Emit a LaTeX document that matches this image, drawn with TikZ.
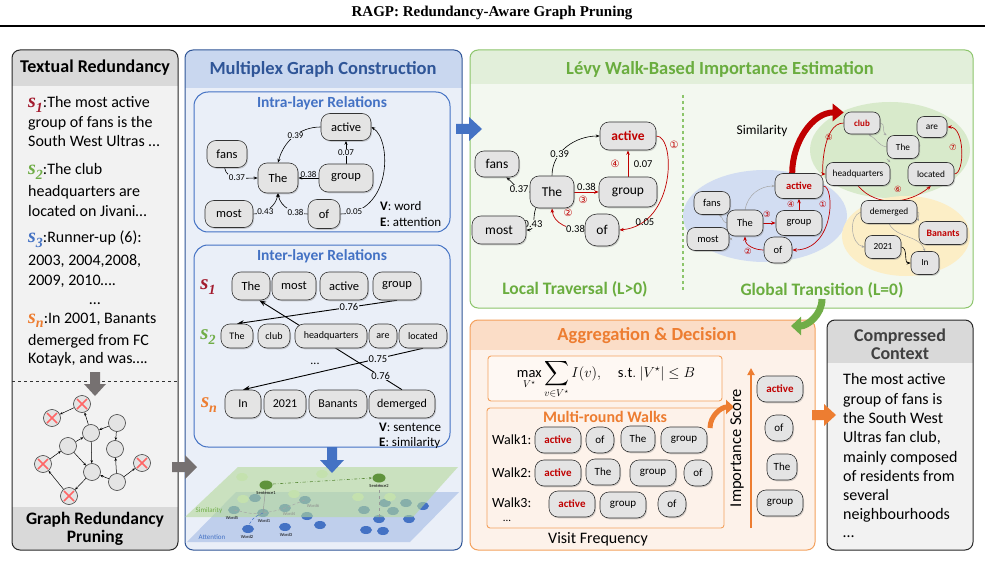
\documentclass[tikz,border=0pt]{standalone}
\usepackage{exscale}
\usepackage{fontspec}
\setmainfont{Carlito}
\newfontfamily\titlefont{Liberation Serif}
\newfontfamily\dejavu{DejaVu Sans}
\usetikzlibrary{arrows.meta,shadows,calc}
\pgfdeclarelayer{bg}
\pgfdeclarelayer{fg}
\pgfsetlayers{bg,main,fg}
\newcommand\myfs[1]{\fontsize{#1}{#1}\selectfont}
\newcommand\svar[3]{{\color{#1}\titlefont\bfseries\itshape\myfs{#3}s\raisebox{-0.22em}{\myfs{14}#2}}}
\definecolor{sred}{HTML}{A31B2E}
\definecolor{sgreen}{HTML}{70AD47}
\definecolor{sblue}{HTML}{4472C4}
\definecolor{sorange}{HTML}{ED7D31}
\definecolor{wred}{HTML}{C00000}
\definecolor{nodefill}{HTML}{E4E4E4}
\definecolor{p1body}{HTML}{F2F2F2}
\definecolor{p1head}{HTML}{D9D9D9}
\definecolor{p2border}{HTML}{2F5597}
\definecolor{p2head}{HTML}{C9D7EF}
\definecolor{p2body}{HTML}{EAEFF8}
\definecolor{p3border}{HTML}{8CC56B}
\definecolor{p3head}{HTML}{E2EFDA}
\definecolor{p3body}{HTML}{F3F8F0}
\definecolor{p3title}{HTML}{6AAD3F}
\definecolor{p4border}{HTML}{F4A15D}
\definecolor{p4head}{HTML}{FBDDC7}
\definecolor{p4body}{HTML}{FDF2EA}
\definecolor{blueell}{HTML}{D2DDF2}
\definecolor{greenell}{HTML}{D8EACB}
\definecolor{yellowell}{HTML}{FCEEC6}
\definecolor{arrgray}{HTML}{767171}
\definecolor{planeg}{HTML}{B5D99A}
\definecolor{planeb}{HTML}{BFCFEC}
\begin{document}
\begin{tikzpicture}[x=1pt,y=-1pt,
  wd/.style={draw=black!80, fill=nodefill, rounded corners=9pt, line width=0.6pt, inner xsep=3pt, inner ysep=1pt, minimum height=27pt, drop shadow={shadow xshift=1pt,shadow yshift=-1.3pt,opacity=0.35}, font=\myfs{12.5}},
  gwd/.style={wd, rounded corners=8pt, minimum height=23pt, font=\myfs{10.5}},
  gwds/.style={wd, rounded corners=7pt, minimum height=22pt, font=\myfs{9.3}},
  kwd/.style={wd, minimum height=26pt, font=\myfs{11}},
  ed/.style={-{Stealth[length=4pt,width=3pt]}, line width=0.6pt, black},
  edb/.style={-{Stealth[length=7pt,width=5pt]}, line width=0.9pt, black},
  rwalk/.style={-{Stealth[length=4.5pt,width=3.5pt]}, line width=0.7pt, wred},
  gedge/.style={-{Stealth[length=3pt,width=2.5pt]}, line width=0.5pt, black!35},
  lab/.style={font=\myfs{9}, inner sep=0.6pt},
  labl/.style={font=\myfs{10.5}, inner sep=0.6pt},
  cn/.style={font=\dejavu\myfs{10}, text=wred, inner sep=0pt},
  cns/.style={font=\dejavu\myfs{8.5}, text=wred, inner sep=0pt},
  gc/.style={circle, draw=black!75, fill=nodefill, line width=0.6pt, minimum size=17pt, inner sep=0pt},
  ge/.style={-{Stealth[length=3pt,width=2.5pt]}, line width=0.5pt, black},
  line/.style={anchor=base west, inner sep=0pt, font=\myfs{16}},
  ptitle/.style={font=\bfseries\myfs{18.5}},
  stitle/.style={font=\bfseries\myfs{15.5}, text=sblue},
  tiny/.style={font=\myfs{4.5}, inner sep=0pt}
]
\useasboundingbox (0,0) rectangle (985,572);

%================ BACKGROUND LAYER =================
\begin{pgfonlayer}{bg}
\fill[white] (0,0) rectangle (985,572);
% panel 1
\fill[p1body,rounded corners=8pt] (12,50) rectangle (178,550);
\begin{scope}
  \clip[rounded corners=8pt] (12,50) rectangle (178,550);
  \fill[p1head] (12,50) rectangle (178,86);
  \fill[p1head] (12,507) rectangle (178,550);
\end{scope}
\draw[black!85,line width=1pt,rounded corners=8pt] (12,50) rectangle (178,550);
\draw[black!80,dashed,line width=0.8pt] (12,381) -- (178,381);
% panel 2
\fill[p2body,rounded corners=8pt] (185,50) rectangle (462,550);
\begin{scope}
  \clip[rounded corners=8pt] (185,50) rectangle (462,550);
  \fill[p2head] (185,50) rectangle (462,88);
\end{scope}
\draw[p2border,line width=1pt,rounded corners=8pt] (185,50) rectangle (462,550);
\draw[sblue,line width=1pt,rounded corners=14pt] (194,92) rectangle (450,232);
\draw[sblue,line width=1pt,rounded corners=14pt] (194,245) rectangle (450,447);
% layer planes
\fill[planeb] (236,492) -- (459,492) -- (410,542) -- (187,542) -- cycle;
\foreach \px/\py in {248/529,285/527,320/525,307/516,366/530,383/531,379/519,409/519,423/506,234/510,263/513,285/508,305/500,364/510,385/503,393/511,406/503,255/498}
  \fill[sblue] (\px,\py) ellipse[x radius=6pt, y radius=4pt];
\fill[planeg,opacity=0.6] (238,467) -- (458,467) -- (413,517) -- (185,517) -- cycle;
\foreach \px/\py in {242/477,322/474,294/494,243/499,358/497,390/497}
  \fill[planeg!80!white] (\px,\py) ellipse[x radius=6pt, y radius=4pt];
\draw[black!40,line width=0.5pt] (266,485) -- (263,513);
\draw[black!40,line width=0.5pt,dashed] (379,478) -- (379,519);
\draw[sblue,densely dashed,line width=0.5pt] (263,513) to[out=200,in=80] (248,529);
\draw[black!35,densely dashed,line width=0.5pt] (234,510) to[out=-10,in=190] (263,513) to[out=10,in=200] (285,508) to[out=20,in=200] (305,500);
\fill[sgreen!85!black] (266,485) ellipse[x radius=6.5pt, y radius=4.5pt];
\fill[sgreen!85!black] (379,478) ellipse[x radius=6.5pt, y radius=4.5pt];
\draw[sgreen!80!black,dash dot,line width=0.6pt,-{Stealth[length=3pt]}] (273,484) -- (372,478);
% panel 3
\fill[p3body,rounded corners=8pt] (470,50) rectangle (973,308);
\begin{scope}
  \clip[rounded corners=8pt] (470,50) rectangle (973,308);
  \fill[p3head] (470,50) rectangle (973,84);
\end{scope}
\draw[p3border,line width=1pt,rounded corners=8pt] (470,50) rectangle (973,308);
\draw[p3border,dashed,line width=1.2pt] (683,95) -- (683,290);
\fill[blueell] (765,216) ellipse[x radius=82pt, y radius=46pt];
\fill[greenell] (890,150) ellipse[x radius=80pt, y radius=48pt];
\fill[yellowell] (906,236) ellipse[x radius=64pt, y radius=40pt];
% panel 4
\fill[p4body,rounded corners=8pt] (470,320) rectangle (815,550);
\begin{scope}
  \clip[rounded corners=8pt] (470,320) rectangle (815,550);
  \fill[p4head] (470,320) rectangle (815,350);
\end{scope}
\draw[p4border,line width=1pt,rounded corners=8pt] (470,320) rectangle (815,550);
\draw[p4border,line width=0.9pt,fill=white!45!p4body,rounded corners=3pt] (488,356) rectangle (722,401);
\draw[p4border,line width=0.9pt,rounded corners=3pt] (487,408) rectangle (724,528);
% panel 5
\fill[p1body,rounded corners=8pt] (827,320) rectangle (973,550);
\begin{scope}
  \clip[rounded corners=8pt] (827,320) rectangle (973,550);
  \fill[p1head] (827,320) rectangle (973,363);
\end{scope}
\draw[black!85,line width=1pt,rounded corners=8pt] (827,320) rectangle (973,550);
\end{pgfonlayer}

%================ TITLE =================
\node[font=\titlefont\bfseries\myfs{15}] (title) at (492,13) {RAGP: Redundancy-Aware Graph Pruning};
\draw[line width=1.3pt] (0,26) -- (985,26);

%================ PANEL 1 =================
\node[ptitle,font=\bfseries\myfs{18}] (t1) at (95,68) {Textual Redundancy};
\node[line] (s1a) at (28,108) {\svar{sred}{1}{20}:The most active};
\node[line] (s1b) at (28,128) {group of fans is the};
\node[line] (s1c) at (28,147) {South West Ultras …};
\node[line] (s2a) at (28,175) {\svar{sgreen}{2}{20}:The club};
\node[line] (s2b) at (28,197) {headquarters are};
\node[line] (s2c) at (28,217) {located on Jivani…};
\node[line] (s3a) at (28,243) {\svar{sblue}{3}{20}:Runner-up (6):};
\node[line] (s3b) at (28,265) {2003, 2004,2008,};
\node[line] (s3c) at (28,285) {2009, 2010….};
\node[anchor=base, inner sep=0pt, font=\myfs{16}] (s3d) at (95,304) {…};
\node[line] (sna) at (28,323) {\svar{sorange}{n}{20}:In 2001, Banants};
\node[line] (snb) at (28,345) {demerged from FC};
\node[line] (snc) at (28,363) {Kotayk, and was….};
\fill[arrgray] (90,372) -- (100,372) -- (100,384) -- (106,384) -- (95,396) -- (84,384) -- (90,384) -- cycle;
% graph
\node[gc] (x1) at (82,404) {};
\node[gc] (x2) at (52,418) {};
\node[gc] (gA) at (91,433) {};
\node[gc] (gB) at (117,423) {};
\node[gc] (gC) at (68,446) {};
\node[gc] (gD) at (115,449) {};
\node[gc] (x3) at (43,464) {};
\node[gc] (gE) at (92,472) {};
\node[gc] (gF) at (117,482) {};
\node[gc] (x4) at (142,463) {};
\node[gc] (x5) at (69,496) {};
\foreach \n in {x1,x2,x3,x4,x5}{
  \draw[red!60!white,line width=1.6pt] ($(\n)+(-5,-5)$) -- ($(\n)+(5,5)$) ($(\n)+(-5,5)$) -- ($(\n)+(5,-5)$);
}
\draw[ge] (x1) -- (x2);
\draw[ge] (gA) -- (x1);
\draw[ge] (gB) -- (gA);
\draw[ge] (gB) -- (gD);
\draw[ge] (gC) -- (gA);
\draw[ge] (x3) -- (gC);
\draw[ge] (gC) -- (gE);
\draw[ge] (gA) -- (gE);
\draw[ge] (x5) -- (x3);
\draw[ge] (gE) -- (x5);
\draw[ge] (gF) -- (gE);
\draw[ge] (gF) -- (gD);
\draw[ge] (gF) -- (x4);
\node[font=\bfseries\fontsize{17.5}{18}\selectfont, align=center, inner sep=0pt] (t1b) at (95,529) {Graph Redundancy\\Pruning};
\fill[arrgray] (172,462) -- (185,462) -- (185,455) -- (197,467) -- (185,479) -- (185,472) -- (172,472) -- cycle;

%================ PANEL 2 =================
\node[ptitle,text=p2border] (t2) at (323,69) {Multiplex Graph Construction};
\node[stitle] (t2a) at (322,103) {Intra-layer Relations};
\begin{pgfonlayer}{fg}
\node[wd,minimum width=50pt] (ia) at (346,127) {active};
\node[wd,minimum width=40pt] (ifn) at (227,154) {fans};
\node[wd,minimum width=40pt,minimum height=30pt] (ith) at (278,178) {The};
\node[wd,minimum width=54pt,minimum height=28pt] (igr) at (346,178) {group};
\node[wd,minimum width=48pt] (imo) at (229,214) {most};
\node[wd,minimum width=32pt,minimum height=29pt] (iof) at (324,214) {of};
\end{pgfonlayer}
\draw[ed] (ia.west) to[out=180,in=75] node[lab,fill=p2body,pos=.45] {0.39} (ith.north);
\draw[ed] (ifn.-100) to[out=-80,in=180] node[lab,fill=p2body,pos=.5] {0.37} (ith.west);
\draw[ed] (igr.west) -- node[lab,above] {0.38} (ith.east);
\draw[ed] (igr.north) -- node[lab,fill=p2body] {0.07} (ia.south);
\draw[ed] (imo.east) to[out=0,in=-100] node[lab,fill=p2body,pos=.35] {0.43} (ith.south);
\draw[ed] (iof.west) to[out=180,in=-80] node[lab,fill=p2body,pos=.3] {0.38} (ith.south);
\draw[ed] (iof.east) .. controls (392,214) and (392,140) .. node[lab,fill=p2body,pos=.1] {0.05} (ia.east);
\node[anchor=west,font=\myfs{13},inner sep=0pt] (vw) at (380,206) {\textbf{V}: word};
\node[anchor=west,font=\myfs{13},inner sep=0pt] (ew) at (380,222) {\textbf{E}: attention};

\node[stitle] (t2b) at (322,256) {Inter-layer Relations};
\node[inner sep=0pt] (ls1) at (208,287) {\svar{sred}{1}{21}};
\node[inner sep=0pt] (ls2) at (208,337) {\svar{sgreen}{2}{21}};
\node[inner sep=0pt] (lsn) at (209,405) {\svar{sorange}{n}{21}};
\begin{pgfonlayer}{fg}
\node[wd,minimum width=38pt,minimum height=28pt] (r1t) at (251,286) {The};
\node[wd,minimum width=44pt,minimum height=28pt] (r1m) at (294,286) {most};
\node[wd,minimum width=48pt,minimum height=28pt] (r1a) at (344,286) {active};
\node[wd,minimum width=48pt,minimum height=28pt] (r1g) at (397,286) {group};
\node[wd,minimum width=32pt,minimum height=24pt,font=\myfs{10}] (r2t) at (237,336) {The};
\node[wd,minimum width=32pt,minimum height=24pt,font=\myfs{10}] (r2c) at (274,336) {club};
\node[wd,minimum width=72pt,minimum height=24pt,font=\myfs{10}] (r2h) at (331,336) {headquarters};
\node[wd,minimum width=28pt,minimum height=24pt,font=\myfs{10}] (r2a) at (383,336) {are};
\node[wd,minimum width=48pt,minimum height=24pt,font=\myfs{10}] (r2l) at (423,336) {located};
\node[wd,minimum width=36pt,minimum height=28pt,font=\myfs{12}] (rni) at (243,404) {In};
\node[wd,minimum width=42pt,minimum height=28pt,font=\myfs{12}] (rn2) at (285,404) {2021};
\node[wd,minimum width=58pt,minimum height=28pt,font=\myfs{12}] (rnb) at (338,404) {Banants};
\node[wd,minimum width=66pt,minimum height=28pt,font=\myfs{12}] (rnd) at (402,404) {demerged};
\end{pgfonlayer}
\draw[edb] (r1g.south) -- node[lab,font=\myfs{10.5},fill=p2body,pos=.3] {0.76} (r2t.north);
\draw[edb] (rnd.north) -- node[lab,font=\myfs{10.5},fill=p2body,pos=.15] {0.76} (r1t.-60);
\draw[edb] (r2l.south) -- node[lab,font=\myfs{10.5},fill=p2body,pos=.25] {0.75} (rni.north);
\node[font=\myfs{12}] (dots2) at (315,364) {...};
\node[anchor=west,font=\myfs{13},inner sep=0pt] (vs) at (379,427) {\textbf{V}: sentence};
\node[anchor=west,font=\myfs{13},inner sep=0pt] (es) at (379,443) {\textbf{E}: similarity};
\fill[sblue] (327,447) -- (337,447) -- (337,460) -- (344,460) -- (332,473) -- (320,460) -- (327,460) -- cycle;
% layer labels
\node[tiny] (ns1) at (266,493) {Sentence1};
\node[tiny] (ns2) at (379,486) {Sentence2};
\node[tiny] (nw5) at (232,518) {Word5};
\node[tiny] (nw1) at (264,521) {Word1};
\node[tiny,text=black!45] (nw4) at (289,514) {Word4};
\node[tiny,text=black!45] (nw6) at (313,506) {Word6};
\node[tiny] (nw2) at (247,537) {Word2};
\node[tiny] (nw3) at (286,535) {Word3};
\node[font=\myfs{7}, text=sgreen, inner sep=0pt] (nsim) at (209,511) {Similarity};
\node[font=\myfs{7}, text=sblue, inner sep=0pt] (natt) at (212,537) {Attention};
\fill[sblue] (456,124) -- (469,124) -- (469,117) -- (482,129) -- (469,141) -- (469,134) -- (456,134) -- cycle;

%================ PANEL 3 =================
\node[ptitle,text=p3title] (t3) at (720,69) {Lévy Walk-Based Importance Estimation};
\begin{pgfonlayer}{fg}
\node[wd,font=\bfseries\myfs{13.5},text=wred,minimum width=56pt,minimum height=28pt] (la) at (628,136) {active};
\node[wd,font=\myfs{13.5},minimum width=44pt,minimum height=26pt] (lf) at (497,164) {fans};
\node[wd,font=\myfs{13.5},minimum width=44pt,minimum height=32pt] (lt) at (552,192) {The};
\node[wd,font=\myfs{13.5},minimum width=58pt,minimum height=30pt] (lg) at (628,192) {group};
\node[wd,font=\myfs{13.5},minimum width=54pt,minimum height=28pt] (lm) at (499,230) {most};
\node[wd,font=\myfs{13.5},minimum width=34pt,minimum height=32pt,rounded corners=12pt] (lo) at (602,230) {of};
\end{pgfonlayer}
\draw[ed] (lt.north) to[out=90,in=180] node[labl,fill=p3body,pos=.35] {0.39} (la.west);
\draw[ed] (lt.west) to[out=185,in=-40] node[labl,fill=p3body,pos=.4] {0.37} (lf.-55);
\draw[rwalk] (lt.east) -- node[labl,text=black,above] {0.38} (lg.west);
\node[cn] (c3) at (583,200) {③};
\draw[rwalk] (lg.north) -- (la.south);
\node[labl,anchor=west] (l07) at (633,164) {0.07};
\node[cn] (c4) at (615,164) {④};
\draw[rwalk] (lo.west) to[out=180,in=-85] node[labl,text=black,fill=p3body,pos=.2] {0.38} (lt.south);
\node[cn] (c2) at (568,213) {②};
\draw[ed] (lt.-135) to[out=-110,in=0] node[labl,fill=p3body,pos=.55] {0.43} (lm.east);
\draw[rwalk] (la.east) .. controls (676,136) and (676,225) .. (lo.east);
\node[cn] (c1) at (674,145) {①};
\node[labl] (l05) at (645,222) {0.05};
\node[font=\bfseries\myfs{17.5},text=p3title] (t3a) at (575,289) {Local Traversal (L>0)};
% global
\begin{pgfonlayer}{fg}
\node[gwd,font=\bfseries\myfs{10.5},text=wred,minimum width=48pt,minimum height=25pt] (ga) at (799,186) {active};
\node[gwd,minimum width=36pt] (gf) at (712,203) {fans};
\node[gwd,minimum width=36pt,minimum height=26pt] (gt) at (745,223) {The};
\node[gwd,minimum width=46pt,minimum height=25pt] (gg) at (799,223) {group};
\node[gwd,minimum width=42pt] (gm) at (708,239) {most};
\node[gwd,minimum width=28pt,minimum height=26pt,rounded corners=10pt] (go) at (778,250) {of};
\node[gwds,font=\bfseries\myfs{9},text=wred,minimum width=36pt] (gcl) at (862,123) {club};
\node[gwds,minimum width=30pt,minimum height=21pt] (gar) at (932,127) {are};
\node[gwds,minimum width=32pt,minimum height=23pt] (gt2) at (903,147) {The};
\node[gwds,minimum width=64pt,minimum height=23pt] (gh) at (858,174) {headquarters};
\node[gwds,minimum width=46pt,minimum height=23pt] (gl) at (931,174) {located};
\node[gwds,minimum width=56pt,minimum height=23pt] (gd) at (889,212) {demerged};
\node[gwds,font=\bfseries\myfs{9.8},text=wred,minimum width=48pt,minimum height=23pt] (gb) at (943,233) {Banants};
\node[gwds,minimum width=36pt,minimum height=23pt] (g21) at (883,247) {2021};
\node[gwds,minimum width=28pt,minimum height=23pt] (gin) at (925,263) {In};
\end{pgfonlayer}
\draw[gedge] (gt.north) to[out=80,in=180] (ga.west);
\draw[gedge] (gt.west) to[out=170,in=-30] (gf.-60);
\draw[gedge] (gt.-150) to[out=-160,in=0] (gm.east);
\draw[rwalk] (gt.east) -- (gg.west);
\node[cns] (gc3) at (767,214) {③};
\draw[rwalk] (gg.north) -- (ga.south);
\node[cns] (gc4) at (791,204) {④};
\draw[rwalk] (ga.east) .. controls (835,186) and (835,250) .. (go.east);
\node[cns] (gc1) at (823,204) {①};
\draw[rwalk] (go.west) to[out=180,in=-90] (gt.south);
\node[cns] (gc2) at (748,251) {②};
\draw[gedge] (gcl.east) to[out=0,in=150] (gt2.north west);
\draw[gedge] (gt2.west) to[out=170,in=-30] (gcl.-60);
\draw[gedge] (gt2.east) to[out=10,in=-150] (gar.south west);
\draw[gedge] (gt2.south west) -- (gh.north east);
\draw[rwalk] (gcl.west) .. controls (822,123) and (822,174) .. (gh.west);
\node[cns] (gc5) at (829,137) {⑤};
\draw[rwalk] (gh.south) to[out=-50,in=-140] (gl.south);
\node[cns] (gc6) at (898,189) {⑥};
\draw[rwalk] (gl.east) .. controls (965,174) and (965,127) .. (gar.east);
\node[cns] (gc7) at (953,147) {⑦};
\draw[gedge] (gd.east) to[out=0,in=110] (gb.north west);
\draw[gedge] (gd.west) to[out=200,in=170] (g21.west);
\draw[gedge] (gd.south) to[out=-60,in=110] (gin.north);
\draw[ed] (g21.east) to[out=-10,in=180] (gin.west);
\draw[wred,line width=6pt,-{Triangle[length=11pt,width=17pt]}] (ga.118) to[out=90,in=180] (gcl.150);
\node[font=\myfs{13.4}] (sim) at (762,131) {Similarity};
\node[font=\bfseries\myfs{17.5},text=p3title] (t3b) at (822,290) {Global Transition (L=0)};
\coordinate (ggA) at (822,299);
\coordinate (ggB) at (791,326);
\draw[sgreen,line width=7pt,-{Triangle[length=10pt,width=18pt]}] (ggA) to[out=-90,in=0] (ggB);

%================ PANEL 4 =================
\node[ptitle,text=sorange] (t4) at (647,336) {Aggregation \& Decision};
\node[font=\myfs{14.5}] (form) at (606,379) {$\displaystyle\max_{V^{\star}}\mathop{\hbox{\myfs{17}$\displaystyle\sum$}}\limits_{v\in V^{\star}} I(v),\quad \mathrm{s.t.}\ |V^{\star}|\le B$};
\node[font=\bfseries\myfs{16},text=sorange] (t4a) at (605,417) {Multi-round Walks};
\node[anchor=west,font=\myfs{14},inner sep=0pt] (w1) at (492,440) {Walk1:};
\node[anchor=west,font=\myfs{14},inner sep=0pt] (w2) at (492,473) {Walk2:};
\node[anchor=west,font=\myfs{14},inner sep=0pt] (w3) at (492,503) {Walk3:};
\node[font=\myfs{11},inner sep=0pt] (wdots) at (507,521) {...};
\begin{pgfonlayer}{fg}
\node[kwd,font=\bfseries\myfs{11},text=wred,minimum width=46pt] (k1a) at (558,440) {active};
\node[kwd,minimum width=28pt,rounded corners=11pt] (k1o) at (600,440) {of};
\node[kwd,minimum width=34pt] (k1t) at (638,439) {The};
\node[kwd,minimum width=46pt] (k1g) at (684,440) {group};
\node[kwd,font=\bfseries\myfs{11},text=wred,minimum width=46pt] (k2a) at (558,473) {active};
\node[kwd,minimum width=34pt] (k2t) at (603,472) {The};
\node[kwd,minimum width=46pt] (k2g) at (653,473) {group};
\node[kwd,minimum width=28pt,rounded corners=11pt] (k2o) at (698,473) {of};
\node[kwd,font=\bfseries\myfs{11},text=wred,minimum width=46pt] (k3a) at (572,504) {active};
\node[kwd,minimum width=46pt] (k3g) at (623,505) {group};
\node[kwd,minimum width=28pt,rounded corners=11pt] (k3o) at (672,504) {of};
\node[kwd,font=\bfseries\myfs{11},text=wred,minimum width=46pt] (ka) at (780,389) {active};
\node[kwd,minimum width=28pt,rounded corners=11pt] (ko) at (779,428) {of};
\node[kwd,minimum width=30pt] (kt) at (782,467) {The};
\node[kwd,minimum width=46pt] (kg) at (780,503) {group};
\end{pgfonlayer}
\coordinate (oA) at (710,428);
\coordinate (oB) at (734,407);
\draw[sorange,line width=5pt,-{Triangle[length=8pt,width=14pt]}] (oA) to[out=90,in=180] (oB);
\coordinate (iA) at (751,528);
\coordinate (iB) at (751,368);
\draw[sorange,line width=1.8pt,-{Triangle[length=7pt,width=7pt]}] (iA) -- (iB);
\node[rotate=90,font=\myfs{16.5}] (imp) at (737,448) {Importance Score};
\node[font=\myfs{16}] (vf) at (598,539) {Visit Frequency};
\fill[sorange] (812,410) -- (824,410) -- (824,404) -- (836,415) -- (824,426) -- (824,420) -- (812,420) -- cycle;

%================ PANEL 5 =================
\node[font=\bfseries\fontsize{18}{17.5}\selectfont,text=black!75,align=center,inner sep=0pt] (t5) at (900,344) {Compressed\\Context};
\node[line] (c5a) at (843,384) {The most active};
\node[line] (c5b) at (843,404) {group of fans is};
\node[line] (c5c) at (843,423) {the South West};
\node[line] (c5d) at (843,442) {Ultras fan club,};
\node[line] (c5e) at (843,462) {mainly composed};
\node[line] (c5f) at (843,481) {of residents from};
\node[line] (c5g) at (843,500) {several};
\node[line] (c5h) at (843,519) {neighbourhoods};
\node[line] (c5i) at (843,537) {…};
\end{tikzpicture}
\end{document}
